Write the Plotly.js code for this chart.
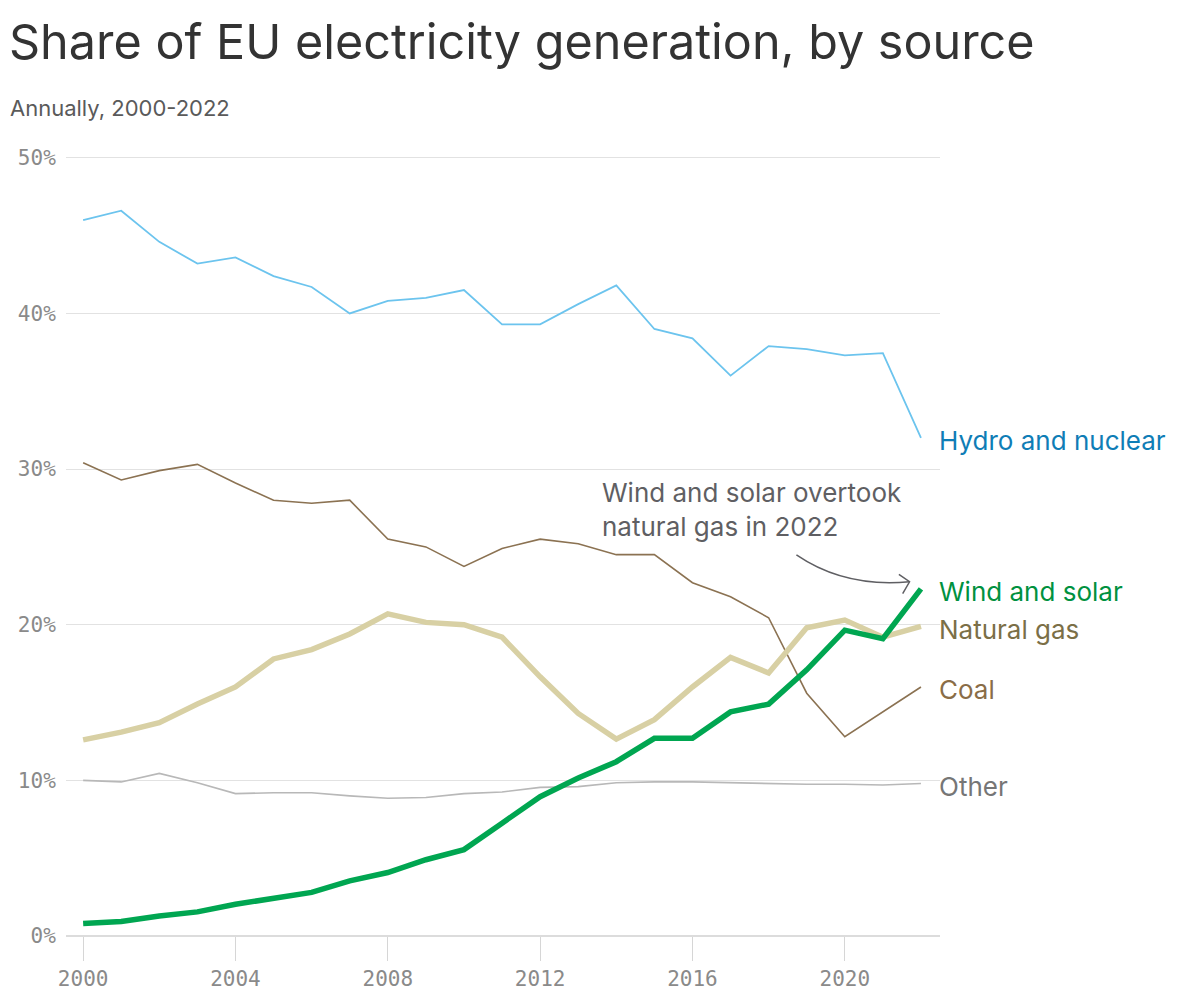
<!DOCTYPE html>
<html>
<head>
<meta charset="utf-8">
<script src="https://cdn.plot.ly/plotly-3.0.1.min.js"></script>
<style>html,body{margin:0;padding:0;background:#fff;}#chart{width:1200px;height:1003px;}</style>
</head>
<body>
<div id="chart"></div>
<script>
const years = [2000,2001,2002,2003,2004,2005,2006,2007,2008,2009,2010,2011,2012,2013,2014,2015,2016,2017,2018,2019,2020,2021,2022];
const hydroNuclear = [46.0,46.6,44.6,43.2,43.6,42.4,41.7,40.0,40.8,41.0,41.5,39.3,39.3,40.6,41.8,39.0,38.4,36.0,37.9,37.7,37.3,37.45,32.0];
const coal = [30.4,29.3,29.9,30.3,29.1,28.0,27.8,28.0,25.5,25.0,23.75,24.9,25.5,25.2,24.5,24.5,22.7,21.8,20.45,15.6,12.8,14.4,16.0];
const naturalGas = [12.6,13.1,13.7,14.9,16.0,17.8,18.4,19.4,20.7,20.15,20.0,19.2,16.65,14.3,12.65,13.9,16.0,17.9,16.9,19.8,20.3,19.2,19.9];
const windSolar = [0.8,0.93,1.29,1.55,2.04,2.45,2.8,3.54,4.08,4.9,5.55,7.25,8.95,10.15,11.2,12.7,12.7,14.4,14.9,17.1,19.65,19.1,22.3];
const other = [10.0,9.9,10.45,9.85,9.15,9.2,9.2,9.0,8.85,8.9,9.15,9.25,9.55,9.6,9.85,9.9,9.9,9.85,9.8,9.75,9.75,9.7,9.8];
const seriesNames = ["Other","Hydro and nuclear","Coal","Natural gas","Wind and solar"];
const xTicks = [2000,2004,2008,2012,2016,2020];
const yTicks = [0,10,20,30,40,50];
const noteText = "Wind and solar overtook<br>natural gas in 2022";

const series = [
  {name:"Other", y:other, color:"#b8b8b8", width:1.6, label:"#767676"},
  {name:"Hydro and nuclear", y:hydroNuclear, color:"#6cc4ee", width:1.8, label:"#0f7db6"},
  {name:"Coal", y:coal, color:"#8b7252", width:1.6, label:"#8a6d47"},
  {name:"Natural gas", y:naturalGas, color:"#d8d0a4", width:5.5, label:"#7b6f47"},
  {name:"Wind and solar", y:windSolar, color:"#00a651", width:5.5, label:"#00913f"}
];

const traces = series.map(s => ({
  type:"scatter", mode:"lines", x:years, y:s.y, name:s.name,
  line:{color:s.color, width:s.width, shape:"linear"},
  cliponaxis:false, hoverinfo:"skip"
}));

const labelFont = "Inter, 'Noto Sans', sans-serif";
const annotations = series.map(s => ({
  xref:"paper", x:1, xanchor:"left", yref:"y", y:s.y[s.y.length-1], yanchor:"middle",
  xshift:-3, yshift:-3, text:s.name, showarrow:false,
  font:{family:labelFont, size:26, color:s.label}
}));
annotations.push({
  xref:"x", x:2013.63, xanchor:"left", yref:"y", y:27.38, yanchor:"middle",
  xshift:-2, text:noteText, showarrow:false, align:"left",
  font:{family:labelFont, size:26, color:"#5f5f63"}
});
annotations.push({
  xref:"paper", yref:"paper", x:-58/874, y:1+42/786, xanchor:"left", yanchor:"middle",
  text:"Annually, 2000-2022", showarrow:false,
  font:{family:labelFont, size:22, color:"#5a5a5a"}
});

const shapes = [
  {type:"path", xref:"x", yref:"y",
   path:"M 2018.73 24.48 Q 2020.0 22.36 2021.70 22.76",
   line:{color:"#5f5f63", width:1.5}},
  {type:"path", xref:"x", yref:"y",
   path:"M 2021.42 23.24 L 2021.70 22.76 L 2021.52 22.0",
   line:{color:"#5f5f63", width:1.5}}
];

const layout = {
  width:1200, height:1003,
  paper_bgcolor:"#ffffff", plot_bgcolor:"#ffffff",
  margin:{l:66, r:260, t:150, b:67},
  showlegend:false,
  title:{text:"Share of EU electricity generation, by source",
    xref:"container", yref:"container", x:9/1200, y:1-42/1003, xanchor:"left", yanchor:"middle",
    font:{family:labelFont, size:48.5, color:"#333333"}},
  xaxis:{range:[1999.55,2022.5], tickvals:xTicks, ticktext:xTicks.map(String),
    showgrid:false, zeroline:false, showline:false,
    ticks:"outside", ticklen:24, tickwidth:1, tickcolor:"#d6d6d6",
    tickfont:{family:"'DejaVu Sans Mono', monospace", size:21, color:"#8a8a8a"}},
  yaxis:{range:[0,50.5], tickvals:yTicks, ticktext:yTicks.map(v=>v+"%"),
    showgrid:true, gridcolor:"#e2e2e2", gridwidth:1,
    zeroline:true, zerolinecolor:"#dcdcdc", zerolinewidth:1.5, showline:false,
    ticks:"outside", ticklen:5, tickcolor:"rgba(0,0,0,0)",
    tickfont:{family:"'DejaVu Sans Mono', monospace", size:21, color:"#8a8a8a"}},
  annotations:annotations,
  shapes:shapes
};

Plotly.newPlot("chart", traces, layout, {displayModeBar:false, staticPlot:true});
</script>
</body>
</html>
